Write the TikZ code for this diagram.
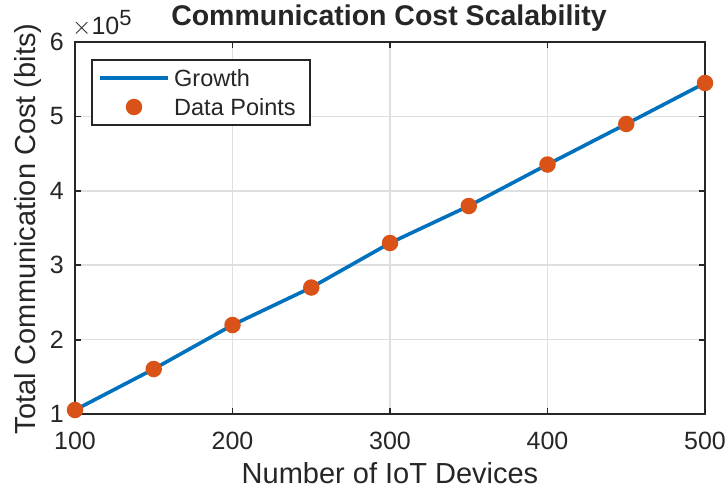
\documentclass[tikz,border=0pt]{standalone}
\usepackage{fontspec}
\setmainfont{Liberation Sans}
\definecolor{axisc}{HTML}{262626}
\definecolor{gridc}{HTML}{DFDFDF}
\definecolor{linec}{HTML}{0072BD}
\definecolor{dotc}{HTML}{D95319}
\begin{document}
\begin{tikzpicture}[x=1pt,y=-1pt,
  gridline/.style={gridc,line width=1.6pt},
  axisline/.style={axisc,line width=1.8pt},
  tickline/.style={axisc,line width=1.8pt},
  ticklab/.style={text=axisc,font=\fontsize{25}{30}\selectfont,inner sep=0pt},
  leglab/.style={text=axisc,font=\fontsize{23.5}{28}\selectfont,inner sep=0pt,anchor=west},
  axlab/.style={text=axisc,font=\fontsize{29}{34}\selectfont,inner sep=0pt},
  growth/.style={linec,line width=3.6pt},
  datadot/.style={circle,fill=dotc,minimum size=16.5pt,inner sep=0pt}]
\useasboundingbox (0,0) rectangle (726,493);
% axes box corners (x: 100..500, y: 1..6 x 10^5)
\def\xl{75}\def\xr{705}\def\yt{42}\def\yb{414}
% grid
\foreach \gx in {232.5,390,547.5} \draw[gridline] (\gx,\yt) -- (\gx,\yb);
\foreach \gy in {116.4,190.8,265.2,339.6} \draw[gridline] (\xl,\gy) -- (\xr,\gy);
% ticks
\foreach \gx in {232.5,390,547.5} {
  \draw[tickline] (\gx,\yb) -- ++(0,-6);
  \draw[tickline] (\gx,\yt) -- ++(0,6);}
\foreach \gy in {116.4,190.8,265.2,339.6} {
  \draw[tickline] (\xl,\gy) -- ++(6,0);
  \draw[tickline] (\xr,\gy) -- ++(-6,0);}
% frame
\draw[axisline] (\xl,\yt) rectangle (\xr,\yb);
% tick labels
\foreach \v/\gx in {100/75,200/232.5,300/390,400/547.5,500/705}
  \node[ticklab] (xt\v) at (\gx,441) {\v};
\foreach \v/\gy in {1/414,2/339.6,3/265.2,4/190.8,5/116.4,6/42}
  \node[ticklab,anchor=east] (yt\v) at (64,\gy) {\v};
\node[ticklab,anchor=south west] (expo) at (72,37) {$\times$10\textsuperscript{\fontsize{22}{26}\selectfont 5}};
% labels
\node[axlab,font=\fontsize{28.5}{34}\selectfont\bfseries] (title) at (389,18) {Communication Cost Scalability};
\node[axlab] (xlab) at (390,473) {Number of IoT Devices};
\node[axlab,rotate=90] (ylab) at (28,229) {Total Communication Cost (bits)};
% data
\coordinate (p1) at (75,410);
\coordinate (p2) at (153.75,369);
\coordinate (p3) at (232.5,325);
\coordinate (p4) at (311.25,287.5);
\coordinate (p5) at (390,243);
\coordinate (p6) at (468.75,206);
\coordinate (p7) at (547.5,164.5);
\coordinate (p8) at (626.25,124);
\coordinate (p9) at (705,83);
\draw[growth] (p1) -- (p2) -- (p3) -- (p4) -- (p5) -- (p6) -- (p7) -- (p8) -- (p9);
\foreach \i in {1,...,9} \node[datadot] (d\i) at (p\i) {};
% legend
\draw[axisc,line width=1.6pt,fill=white] (92,60) rectangle (310,125);
\coordinate (la) at (100,78);
\coordinate (lb) at (168,78);
\draw[growth] (la) -- (lb);
\node[datadot] (ld) at (134,107) {};
\node[leglab] (lg1) at (174,78) {Growth};
\node[leglab] (lg2) at (174,107) {Data Points};
\end{tikzpicture}
\end{document}
